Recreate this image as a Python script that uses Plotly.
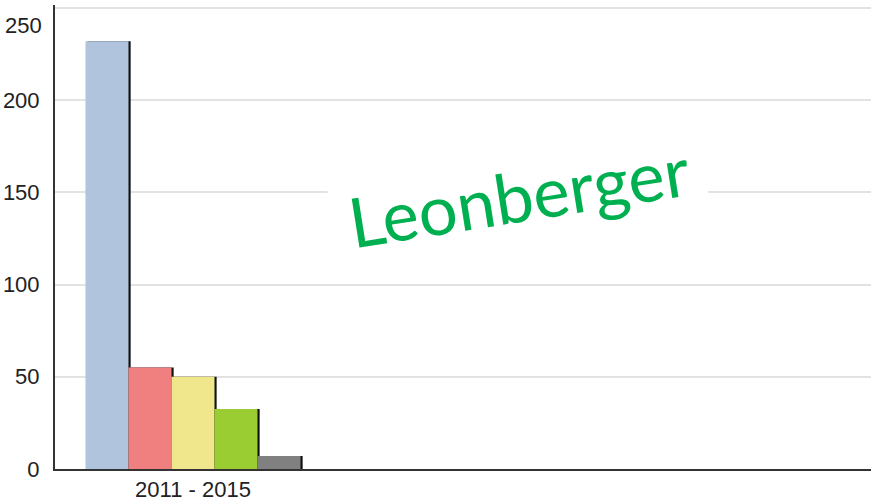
import plotly.graph_objects as go

# data
period = ["2011 - 2015"]
series_names = ["A", "B", "C", "D", "E"]
series_values = [232, 55, 50, 32.5, 7]
series_colors = ["#B0C4DE", "#F08080", "#F0E68C", "#9ACD32", "#808080"]
y_ticks = [0, 50, 100, 150, 200, 250]
y_tick_text = ["0", "50", "100", "150", "200", ""]  # top label is placed lower, see annotation

bar_w = 0.16
shadow_shift = 0.008
first_offset = -2.5 * bar_w

fig = go.Figure()

# black edge shadows drawn first, so the next bar covers them
for i, (name, val) in enumerate(zip(series_names, series_values)):
    fig.add_trace(go.Bar(
        x=[0], y=[val], width=bar_w, offset=first_offset + i * bar_w + shadow_shift,
        marker=dict(color="#111111", line=dict(width=0)),
        showlegend=False, hoverinfo="skip",
    ))

for i, (name, val, col) in enumerate(zip(series_names, series_values, series_colors)):
    fig.add_trace(go.Bar(
        x=[0], y=[val], name=name, width=bar_w, offset=first_offset + i * bar_w,
        marker=dict(color=col, line=dict(width=0)),
        showlegend=False,
    ))

fig.add_annotation(
    text="Leonberger", xref="paper", yref="paper", x=0.568, y=0.59,
    showarrow=False, textangle=-9, bgcolor="white", borderpad=16,
    font=dict(family="Lato, Open Sans, sans-serif", size=69, color="#00B050"),
)

# the top tick label sits below its gridline in the original
fig.add_annotation(
    text="250", xref="paper", yref="paper", x=-0.0135, y=0.955,
    xanchor="right", yanchor="middle", showarrow=False,
    font=dict(family="Liberation Sans, Arial, sans-serif", size=22, color="#222222"),
)

fig.update_layout(
    barmode="overlay",
    width=871, height=500,
    plot_bgcolor="white", paper_bgcolor="white",
    margin=dict(l=55, r=0, t=5, b=31),
    font=dict(family="Liberation Sans, Arial, sans-serif", size=22, color="#222222"),
    xaxis=dict(
        range=[-0.5135, 2.523], tickvals=[0], ticktext=period,
        showgrid=False, zeroline=False, showline=True, linecolor="#333333", linewidth=2,
        ticks="", ticklabelstandoff=0, automargin=False,
    ),
    yaxis=dict(
        range=[0, 251.6], tickvals=y_ticks, ticktext=y_tick_text,
        showgrid=True, gridcolor="#E2E2E2", gridwidth=2, zeroline=False,
        showline=True, linecolor="#333333", linewidth=2,
        ticks="", ticklabelstandoff=9, automargin=False,
    ),
)

# drop the default 8px page margin so the figure fills the window exactly
fig.write_html(
    "out.html",
    config={"displayModeBar": False},
    post_script="document.body.style.margin='0';document.body.style.overflow='hidden';",
)
